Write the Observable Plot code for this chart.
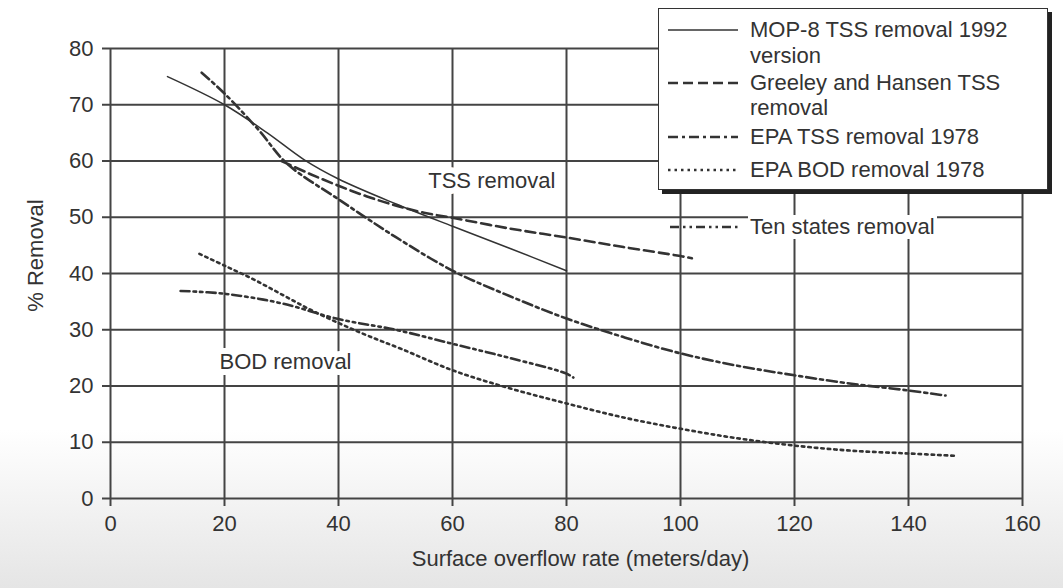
<!DOCTYPE html>
<html>
<head>
<meta charset="utf-8">
<script src="https://cdn.jsdelivr.net/npm/d3@7"></script>
<script src="https://cdn.jsdelivr.net/npm/@observablehq/plot@0.6"></script>
<style>
  html, body { margin: 0; padding: 0; }
  body {
    width: 1063px; height: 588px; overflow: hidden;
    background: linear-gradient(to bottom, #ffffff 0px, #ffffff 430px, #e5e5e5 588px);
    font-family: "Liberation Sans", Arial, sans-serif;
    color: #333;
  }
  #wrap { position: relative; width: 1063px; height: 588px; }
  #wrap svg { position: absolute; left: 0; top: 0; }
  #legendBox {
    position: absolute; left: 658px; top: 8px; width: 388px; height: 180px;
    background: #fff; border: 1.5px solid #333; box-shadow: 4px 4px 0 #222;
  }
  .lg-text { position: absolute; font-size: 22px; line-height: 24px; white-space: nowrap; color: #333; }
  .lg-sample { position: absolute; width: 70px; height: 8px; }
  #tenText { background: #fff; padding: 0 2px; }
</style>
</head>
<body>
<div id="wrap"></div>
<script>
// ---------- data ----------
const xTicks = [0, 20, 40, 60, 80, 100, 120, 140, 160];
const yTicks = [0, 10, 20, 30, 40, 50, 60, 70, 80];

const seriesNames = [
  "MOP-8 TSS removal 1992 version",
  "Greeley and Hansen TSS removal",
  "EPA TSS removal 1978",
  "EPA BOD removal 1978",
  "Ten states removal"
];

const mopX = [10, 20, 27.5, 34, 40, 50, 60, 70, 80];
const mopY = [75, 70, 65, 60.2, 56.8, 52.4, 48.4, 44.5, 40.5];

const greeleyX = [30, 35, 40, 45, 50, 55, 60, 70, 80, 90, 100, 102];
const greeleyY = [60, 57.7, 55.6, 53.7, 52.1, 50.8, 49.9, 48, 46.4, 44.7, 43.1, 42.7];

const epaTssX = [16, 20, 26, 31, 40, 45, 50, 60, 70, 80, 90, 100, 110, 120, 130, 140, 146.5];
const epaTssY = [75.7, 72, 65.5, 59.5, 53.2, 49.8, 46.5, 40.5, 36, 32, 28.7, 25.8, 23.6, 21.9, 20.4, 19.2, 18.3];

const epaBodX = [15.6, 20, 25, 30, 35, 40, 45, 51, 60, 70, 80, 90, 100, 110, 120, 130, 140, 148];
const epaBodY = [43.5, 41.4, 39.0, 36.3, 33.6, 31.2, 29, 26.6, 22.8, 19.6, 16.9, 14.4, 12.4, 10.7, 9.4, 8.5, 8, 7.6];

const tenX = [12.3, 20, 30, 40, 50, 60, 70, 80, 81.2];
const tenY = [36.9, 36.4, 34.7, 31.9, 30, 27.5, 25, 22.2, 21.5];

const noteTexts = ["TSS removal", "BOD removal"];
const noteX = [66.9, 30.7];
const noteY = [56.5, 24.2];

const legendLines = [
  ["MOP-8 TSS removal 1992", "version"],
  ["Greeley and Hansen TSS", "removal"],
  ["EPA TSS removal 1978"],
  ["EPA BOD removal 1978"]
];
const tenLegendText = "Ten states removal";

// ---------- styles ----------
const dashes = ["none", "10,5", "10,4,3,4", "2.5,4", "9,4,2.5,4,2.5,4"];
const widths = [1.5, 2.6, 2.6, 2.6, 2.6];
const ink = "#333";
const gridInk = "#444";

const xs = [mopX, greeleyX, epaTssX, epaBodX, tenX];
const ys = [mopY, greeleyY, epaTssY, epaBodY, tenY];
const seriesData = xs.map((arr, i) => arr.map((x, j) => ({series: seriesNames[i], x, y: ys[i][j]})));
const notes = noteTexts.map((t, i) => ({text: t, x: noteX[i], y: noteY[i]}));

const chart = Plot.plot({
  width: 1063,
  height: 588,
  marginLeft: 110,
  marginRight: 41,
  marginTop: 48,
  marginBottom: 90,
  style: {fontFamily: "Liberation Sans, Arial, sans-serif", fontSize: "22px", background: "transparent", color: ink},
  x: {domain: [0, 160]},
  y: {domain: [0, 80]},
  marks: [
    Plot.ruleX(xTicks, {stroke: gridInk, strokeWidth: 2}),
    Plot.ruleY(yTicks, {stroke: gridInk, strokeWidth: 2}),
    Plot.axisX({ticks: xTicks, tickSize: 8, tickPadding: 9, fontSize: 22, label: null, stroke: gridInk, strokeWidth: 2}),
    Plot.axisY({ticks: yTicks, tickSize: 8, tickPadding: 9, fontSize: 22, label: null, stroke: gridInk, strokeWidth: 2}),
    ...seriesData.map((d, i) => Plot.line(d, {
      x: "x", y: "y", curve: "catmull-rom",
      stroke: ink, strokeWidth: widths[i], strokeDasharray: dashes[i]
    })),
    Plot.text(notes, {
      x: "x", y: "y", text: "text", fill: ink, fontSize: 22,
      stroke: "white", strokeWidth: 12, paintOrder: "stroke", strokeLinejoin: "round"
    }),
    Plot.text(["% Removal"], {text: d => d, frameAnchor: "left", textAnchor: "middle", dx: -75, dy: -18, rotate: -90, fontSize: 22, fill: ink}),
    Plot.text(["Surface overflow rate (meters/day)"], {text: d => d, frameAnchor: "bottom", textAnchor: "middle", dx: 14, dy: 67, fontSize: 22, fill: ink})
  ]
});

const wrap = document.getElementById("wrap");
wrap.appendChild(chart);

// ---------- legend overlay ----------
function sample(i, left, top) {
  const ns = "http://www.w3.org/2000/svg";
  const s = document.createElementNS(ns, "svg");
  s.setAttribute("class", "lg-sample");
  s.setAttribute("width", 70); s.setAttribute("height", 8);
  s.style.left = left + "px"; s.style.top = (top - 4) + "px";
  const l = document.createElementNS(ns, "line");
  l.setAttribute("x1", 0); l.setAttribute("x2", 70);
  l.setAttribute("y1", 4); l.setAttribute("y2", 4);
  l.setAttribute("stroke", ink);
  l.setAttribute("stroke-width", widths[i]);
  if (dashes[i] !== "none") l.setAttribute("stroke-dasharray", dashes[i]);
  s.appendChild(l);
  return s;
}
function textDiv(str, left, centerY, cls) {
  const d = document.createElement("div");
  d.className = "lg-text";
  d.textContent = str;
  d.style.left = left + "px";
  d.style.top = (centerY - 12) + "px";
  if (cls) d.id = cls;
  return d;
}

const box = document.createElement("div");
box.id = "legendBox";
wrap.appendChild(box);

const rowCenters = [[30, 56], [83, 108], [137], [170]];
legendLines.forEach((lines, i) => {
  wrap.appendChild(sample(i, 668, rowCenters[i][0]));
  lines.forEach((t, k) => wrap.appendChild(textDiv(t, 750, rowCenters[i][k])));
});
wrap.appendChild(sample(4, 670, 227));
wrap.appendChild(textDiv(tenLegendText, 748, 227, "tenText"));
</script>
</body>
</html>
